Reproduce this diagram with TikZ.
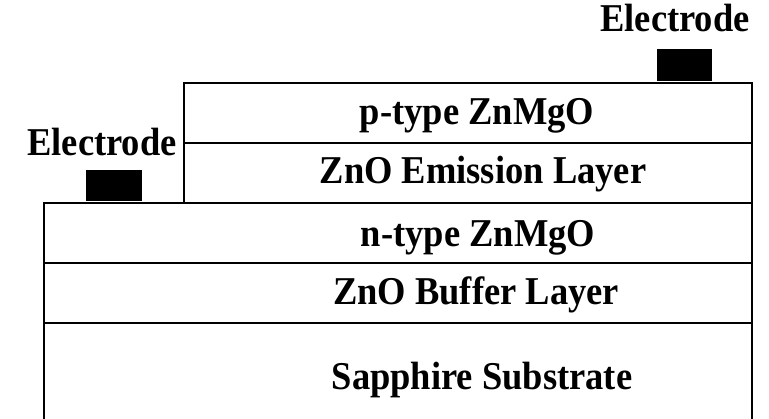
\documentclass[tikz,border=0pt]{standalone}
\usepackage{fontspec}
\usepackage{graphicx}
\setmainfont{Liberation Serif}
\newcommand{\tallt}[1]{\scalebox{1}[1.08]{#1}}
\begin{document}
\begin{tikzpicture}[x=1pt,y=-1pt,
  layer/.style={draw=black,line width=1.7pt,fill=white,rectangle,inner sep=0pt,anchor=north west},
  pad/.style={fill=black,rectangle,inner sep=0pt,anchor=south west},
  lbl/.style={font=\fontsize{36.5}{40}\selectfont\bfseries,inner sep=0pt,anchor=base}]
\useasboundingbox (0,0) rectangle (769,419);
\clip (0,0) rectangle (769,419);
% lower stack
\node[layer,minimum width=708pt,minimum height=104pt] (sub) at (43,322) {};
\node[layer,minimum width=708pt,minimum height=60pt] (buf) at (43,262) {};
\node[layer,minimum width=708pt,minimum height=60pt] (ntype) at (43,202) {};
% upper stack
\node[layer,minimum width=568pt,minimum height=60pt] (emi) at (183,142) {};
\node[layer,minimum width=568pt,minimum height=60pt] (ptype) at (183,82) {};
% electrodes
\node[pad,minimum width=55pt,minimum height=32pt] (eR) at (657,81) {};
\node[pad,minimum width=56pt,minimum height=31pt] (eL) at (86,201) {};
% texts
\node[lbl] (tp) at (477,125) {\tallt{p-type ZnMgO}};
\node[lbl] (te) at (483,184) {\tallt{ZnO Emission Layer}};
\node[lbl] (tn) at (478,247) {\tallt{n-type ZnMgO}};
\node[lbl] (tb) at (476,305) {\tallt{ZnO Buffer Layer}};
\node[lbl] (ts) at (482,390) {\tallt{Sapphire Substrate}};
\node[lbl] (lR) at (675,32) {\tallt{Electrode}};
\node[lbl] (lL) at (102,156) {\tallt{Electrode}};
\end{tikzpicture}
\end{document}
